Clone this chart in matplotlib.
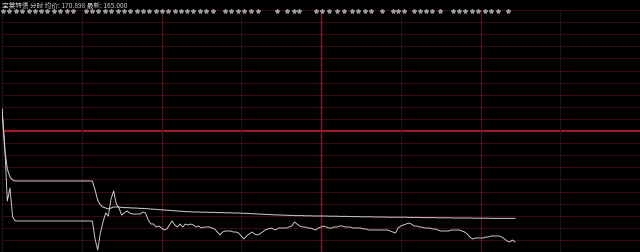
import matplotlib
matplotlib.use('Agg')
import matplotlib.pyplot as plt
import numpy as np

plt.rcParams['font.family'] = ['Noto Sans CJK SC', 'DejaVu Sans']

# --- intraday data (one value per minute from the open) ---
title = "宝莱转债 分时 均价: 170.898 最新: 165.000"
prev_close = 192.75
half_range = 30.25

price = ([198.25, 189.5, 175.25, 178.5, 171.25] + [170.25] * 30 +
         [165.75, 163.0, 167.25, 170.0, 172.25, 171.5, 175.75, 177.75, 174.5, 173.5,
          171.75, 172.25, 172.75, 172.25, 172.0, 172.0, 172.0, 172.0, 172.5, 172.25,
          170.5, 169.5, 169.5, 168.75, 169.0, 168.5, 168.0, 168.25, 169.25, 170.25,
          169.25, 168.75, 169.5, 168.75, 169.5, 169.25, 169.5, 169.25, 168.75, 169.0,
          168.5, 168.75, 168.75, 168.75, 168.5, 168.25, 167.5, 166.75, 167.5, 167.75,
          167.75, 167.75, 167.5, 167.5, 167.25, 166.5, 165.75, 166.5, 167.0, 167.5,
          167.0, 166.75, 167.0, 167.5, 168.0, 168.25, 168.5, 168.25, 168.0, 168.5,
          168.5, 168.5, 168.5, 168.75, 169.0, 170.0, 169.5, 169.0, 168.75, 168.75,
          168.5, 168.5, 168.25, 168.0, 168.5, 168.75, 169.0, 168.75, 168.5, 168.5,
          168.75, 168.75, 169.0, 169.0, 168.75, 168.75, 168.75, 168.5, 168.5, 168.5,
          168.5, 168.25, 168.25, 168.0, 168.0, 168.0, 168.0, 168.0, 168.0, 168.0,
          168.0, 167.75, 167.5, 167.25, 168.5, 169.0, 169.25, 169.5, 169.75, 169.5,
          169.0, 169.0, 168.75, 168.75, 168.5, 168.5, 168.5, 168.25, 168.25, 168.0,
          167.75, 167.75, 167.75, 167.75, 168.0, 168.0, 168.0, 168.0, 167.75, 167.5,
          167.0, 166.25, 165.75, 166.0, 166.0, 166.0, 166.0, 166.25, 166.25, 166.5,
          166.5, 166.5, 166.5, 166.25, 165.75, 165.25, 165.0, 165.5, 165.0])

avg_price = ([198.25, 188.25, 183.25, 181.25, 180.5] + [180.25] * 30 +
             [178.0, 175.5, 174.25, 173.75, 173.5, 173.25, 173.5, 173.75, 173.75, 173.75,
              173.65, 173.6, 173.6, 173.55, 173.5, 173.5, 173.45, 173.4, 173.4, 173.35,
              173.3, 173.25,
              173.2, 173.15, 173.1, 173.05, 173.0, 172.95, 172.9, 172.85, 172.8, 172.75,
              172.7, 172.65, 172.6, 172.6, 172.55,
              172.5, 172.5, 172.5, 172.45, 172.45, 172.45, 172.4, 172.4, 172.4, 172.35,
              172.35, 172.35, 172.3, 172.3, 172.3, 172.25, 172.25, 172.25,
              172.2, 172.2, 172.15, 172.1, 172.1, 172.05, 172.0, 172.0, 171.95, 171.9,
              171.9, 171.85, 171.8, 171.8, 171.75, 171.75, 171.7, 171.7, 171.65, 171.65,
              171.6, 171.6, 171.6,
              171.6, 171.55, 171.55, 171.55, 171.5, 171.5, 171.5, 171.5,
              171.5, 171.5, 171.45, 171.45, 171.45, 171.45, 171.4, 171.4, 171.4, 171.4,
              171.35, 171.35, 171.35, 171.35, 171.3, 171.3, 171.3, 171.3, 171.3, 171.25,
              171.25, 171.25, 171.25, 171.25, 171.2, 171.2, 171.2, 171.2, 171.2, 171.2,
              171.2, 171.2, 171.15, 171.15, 171.15, 171.15, 171.15, 171.1, 171.1, 171.1,
              171.1, 171.1, 171.1, 171.05, 171.05, 171.05, 171.05, 171.05, 171.05, 171.0,
              171.0, 171.0, 171.0, 171.0, 171.0, 171.0, 170.95, 170.95, 170.95, 170.95,
              170.95, 170.95, 170.95] + [170.9] * 10)

# minutes where the tick-flag markers sit along the top edge
flag_minutes = [0.4, 2.8, 5.3, 7.5, 10.0, 12.4, 14.7, 17.1, 19.6, 21.8, 24.3, 26.7,
                31.6, 33.9, 36.3, 38.8, 41.0, 43.5, 45.9, 48.2, 50.6, 53.0, 55.3, 57.8,
                60.2, 62.5, 64.9, 67.3, 69.6, 72.0, 74.5, 76.7, 79.2, 83.9, 86.3, 88.8,
                91.0, 93.5, 96.3, 103.5, 107.2, 109.9, 111.7, 118.1, 120.4, 123.0, 126.0,
                128.7, 131.7, 133.9, 136.6, 138.8, 143.0, 147.1, 149.0, 151.2, 155.0,
                157.3, 159.5, 161.8, 164.8, 169.7, 171.9, 174.2, 176.8, 179.1, 181.7,
                184.0, 186.6, 190.4]

minutes = np.arange(len(price))
lo, hi = prev_close - half_range, prev_close + half_range

fig = plt.figure(figsize=(6.4, 2.53), dpi=100, facecolor='black')
ax = fig.add_axes([2 / 640, 0, 638 / 640, 242 / 253])
ax.set_facecolor('black')
ax.set_xlim(0, 240)
ax.set_ylim(lo, hi)
for s in ax.spines.values():
    s.set_visible(False)
ax.set_xticks([])
ax.set_yticks([])

# grid: 20 price bands, prev close in the middle drawn heavy
for i, lvl in enumerate(np.linspace(lo, hi, 21)):
    if i == 10:
        ax.axhline(lvl, color='#9c1a2c', lw=1.6, zorder=1)
    else:
        ax.axhline(lvl, color='#4a0c14', lw=0.6, zorder=1)
for m in range(0, 241, 30):
    if m == 120:
        ax.axvline(m, color='#8c1424', lw=1.0, zorder=1)
    elif m in (60, 180):
        ax.axvline(m, color='#5a1018', lw=0.7, zorder=1)
    else:
        ax.axvline(m, color='#3c0c12', lw=0.6, zorder=1)

ax.plot(minutes, avg_price, color='#c4c4c4', lw=0.75, zorder=3)
ax.plot(minutes, price, color='#d6d6d6', lw=0.65, zorder=4)

ax.plot(flag_minutes, [hi - 0.25] * len(flag_minutes), ls='none', marker='*',
        ms=3.0, color='#9a9a9a', mec='#9a9a9a', clip_on=False, zorder=5)

fig.text(2 / 640, 1 - 5.5 / 253, title, color='#c8c8c8', fontsize=4.8,
         ha='left', va='center')

fig.savefig('out.png', dpi=100, facecolor='black')
